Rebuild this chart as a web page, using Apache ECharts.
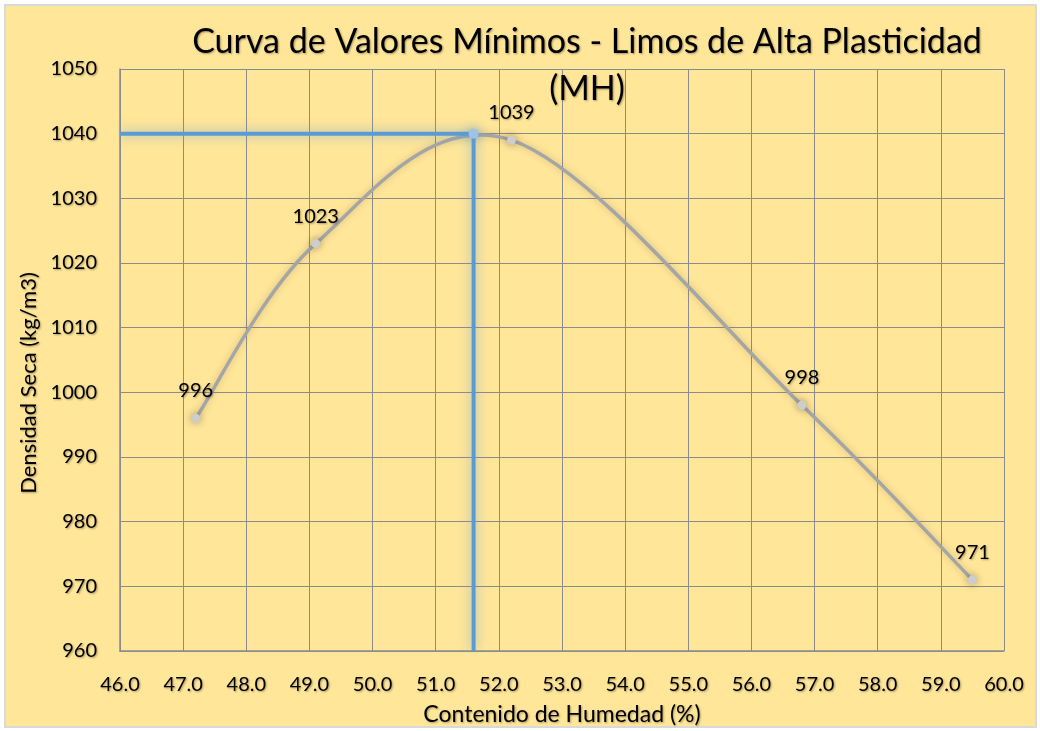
<!DOCTYPE html>
<html>
<head>
<meta charset="utf-8">
<script src="https://cdn.jsdelivr.net/npm/echarts@6/dist/echarts.min.js"></script>
<style>
html,body{margin:0;padding:0;background:#fff;}
#bg{position:absolute;left:4px;top:4px;width:1029px;height:720px;background:#FFE699;border:2px solid #D9D9D9;}
#chart{position:absolute;left:0;top:0;width:1040px;height:731px;}
</style>
</head>
<body>
<div id="bg"></div>
<div id="chart"></div>
<script>
const titleText = 'Curva de Valores Mínimos - Limos de Alta Plasticidad\n(MH)';
const xAxisName = 'Contenido de Humedad (%)';
const yAxisName = 'Densidad Seca (kg/m3)';
const moisture = [47.2, 49.1, 52.2, 56.8, 59.5];
const density = [996, 1023, 1039, 998, 971];
const optimumMoisture = 51.6;
const maxDensity = 1040;
const xMin = 46, xMax = 60, xStep = 1;
const yMin = 960, yMax = 1050, yStep = 10;

const curveData = moisture.map((x, i) => [x, density[i]]);
const guideData = [[xMin, maxDensity], [optimumMoisture, maxDensity], [optimumMoisture, yMin]];

const shadowText = {textShadowColor: 'rgba(0,0,0,0.35)', textShadowBlur: 2, textShadowOffsetX: 1, textShadowOffsetY: 1};
const font = 'Lato, "Open Sans", sans-serif';

// Spreadsheet-style smoothed curve: each data item draws the cubic segment to the next item
// (Catmull-Rom control points, computed in pixel space from the axis scales).
function renderSegment(params, api) {
  const i = params.dataIndex;
  const n = curveData.length;
  if (i >= n - 1) return null;
  const P = k => api.coord(curveData[Math.max(0, Math.min(n - 1, k))]);
  const p0 = P(i - 1), p1 = P(i), p2 = P(i + 1), p3 = P(i + 2);
  return {
    type: 'bezierCurve',
    shape: {
      x1: p1[0], y1: p1[1], x2: p2[0], y2: p2[1],
      cpx1: p1[0] + (p2[0] - p0[0]) / 6, cpy1: p1[1] + (p2[1] - p0[1]) / 6,
      cpx2: p2[0] - (p3[0] - p1[0]) / 6, cpy2: p2[1] - (p3[1] - p1[1]) / 6
    },
    style: {fill: null, stroke: '#A5A5A5', lineWidth: 3.5, lineCap: 'round', shadowColor: 'rgba(120,110,80,0.35)', shadowBlur: 7}
  };
}

const chart = echarts.init(document.getElementById('chart'), null, {renderer: 'canvas'});
chart.setOption({
  backgroundColor: 'transparent',
  animation: false,
  title: {
    text: titleText,
    left: 582,
    top: 14,
    textAlign: 'center',
    textStyle: Object.assign({fontFamily: font, fontSize: 34, fontWeight: 'normal', color: '#000', lineHeight: 47}, shadowText)
  },
  grid: {left: 120, right: 36, top: 69, bottom: 76, show: false},
  xAxis: {
    type: 'value', min: xMin, max: xMax, interval: xStep,
    name: xAxisName, nameLocation: 'middle', nameGap: 52,
    nameTextStyle: Object.assign({fontFamily: font, fontSize: 23, color: '#000'}, shadowText),
    axisLine: {show: true, lineStyle: {color: '#8C8C8C', width: 1.5}},
    axisTick: {show: false},
    axisLabel: Object.assign({fontFamily: font, fontSize: 20, color: '#000', margin: 24, formatter: v => v.toFixed(1)}, shadowText),
    splitLine: {show: true, lineStyle: {color: '#8C8C8C', width: 1}}
  },
  yAxis: {
    type: 'value', min: yMin, max: yMax, interval: yStep,
    name: yAxisName, nameLocation: 'middle', nameGap: 74,
    nameTextStyle: Object.assign({fontFamily: font, fontSize: 22, color: '#000', padding: [0, 46, 0, 0]}, shadowText),
    axisLine: {show: true, lineStyle: {color: '#8C8C8C', width: 1.5}},
    axisTick: {show: false},
    axisLabel: Object.assign({fontFamily: font, fontSize: 20, color: '#000', margin: 23, formatter: v => String(v)}, shadowText),
    splitLine: {show: true, lineStyle: {color: '#8C8C8C', width: 1}}
  },
  series: [
    {
      type: 'custom',
      data: curveData,
      renderItem: renderSegment,
      silent: true,
      z: 2
    },
    {
      type: 'line',
      data: curveData,
      symbol: 'circle',
      symbolSize: 9,
      lineStyle: {width: 0, opacity: 0},
      itemStyle: {color: '#CDCDCD', shadowColor: 'rgba(0,0,0,0.35)', shadowBlur: 8},
      label: Object.assign({show: true, position: 'top', distance: 13, fontFamily: font, fontSize: 20, color: '#000'}, shadowText),
      z: 3
    },
    {
      type: 'line',
      data: guideData,
      smooth: false,
      symbol: 'circle',
      symbolSize: (v, p) => p.dataIndex === 1 ? 10 : 0,
      lineStyle: {color: '#5B9BD5', width: 4, shadowColor: 'rgba(91,155,213,0.7)', shadowBlur: 12},
      itemStyle: {color: '#9DC3E6', shadowColor: 'rgba(91,155,213,0.9)', shadowBlur: 12},
      label: {show: false},
      z: 4
    }
  ]
});
</script>
</body>
</html>
